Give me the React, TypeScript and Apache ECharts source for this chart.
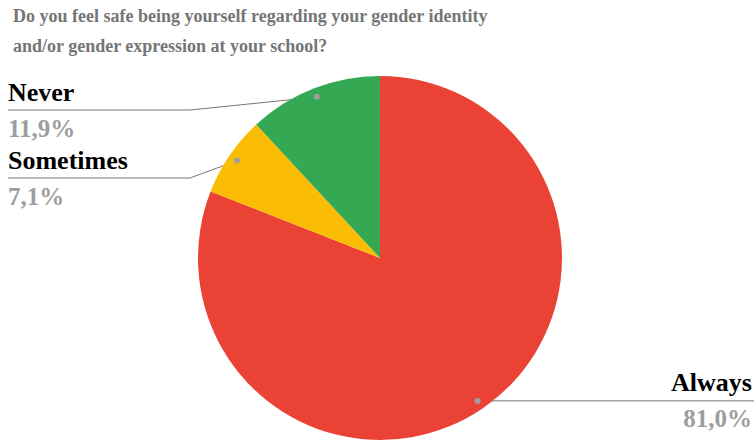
import React, { useEffect, useRef } from "react";
import * as echarts from "echarts";

const titleLines = [
  "Do you feel safe being yourself regarding your gender identity",
  "and/or gender expression at your school?",
];
const categories = ["Always", "Sometimes", "Never"];
const counts = [34, 3, 5];
const colors = ["#ea4335", "#fbbc04", "#34a853"];

const CENTER = [380, 258];
const RADIUS = 182;
const FONT = "'Liberation Serif', 'Times New Roman', serif";

function anchorPoint(i: number): number[] {
  const total = counts.reduce((a, b) => a + b, 0);
  let before = 0;
  for (let k = 0; k < i; k++) before += counts[k];
  const frac = (before + counts[i] / 2) / total;
  const th = frac * Math.PI * 2;
  const r = RADIUS * 0.95;
  return [CENTER[0] + r * Math.sin(th), CENTER[1] - r * Math.cos(th)];
}

// layout of left-hand labels: y of the underline and elbow x
const leftLabelLineY: Record<number, number> = { 1: 178, 2: 110 };
const LEFT_X = 8;
const ELBOW_X = 190;

export default function App() {
  const ref = useRef<HTMLDivElement>(null);
  useEffect(() => {
    if (!ref.current) return;
    const chart = echarts.init(ref.current, undefined, { renderer: "svg" });
    const data = categories.map((name, i) => ({
      name,
      value: counts[i],
      itemStyle: { color: colors[i] },
    }));
    chart.setOption({
      animation: false,
      backgroundColor: "#ffffff",
      title: {
        text: titleLines.join("\n"),
        left: 8,
        top: -4,
        textStyle: {
          fontFamily: FONT,
          fontWeight: "bold",
          fontSize: 18,
          lineHeight: 30,
          color: "#757575",
        },
      },
      series: [
        {
          type: "pie",
          center: CENTER,
          radius: RADIUS,
          startAngle: 90,
          clockwise: true,
          percentPrecision: 1,
          data,
          itemStyle: { borderWidth: 0 },
          emphasis: { disabled: true },
          silent: true,
          label: {
            show: true,
            position: "outside",
            formatter: (p: any) =>
              `{n|${p.name}}\n{v|${Number(p.percent).toFixed(1).replace(".", ",")}%}`,
            rich: {
              n: {
                fontFamily: FONT,
                fontWeight: "bold",
                fontSize: 26,
                lineHeight: 36,
                color: "#000000",
              },
              v: {
                fontFamily: FONT,
                fontWeight: "bold",
                fontSize: 25,
                lineHeight: 36,
                color: "#9e9e9e",
              },
            },
          },
          labelLine: {
            show: true,
            lineStyle: { color: "#757575", width: 1 },
          },
          labelLayout: (params: any) => {
            const i = params.dataIndex;
            const s = anchorPoint(i);
            if (leftLabelLineY[i] === undefined) {
              return {
                x: 752,
                y: s[1],
                align: "right",
                verticalAlign: "middle",
                labelLinePoints: [s, [s[0] + 1, s[1]], [754, s[1]]],
              };
            }
            const ly = leftLabelLineY[i];
            return {
              x: LEFT_X,
              y: ly,
              align: "left",
              verticalAlign: "middle",
              labelLinePoints: [s, [ELBOW_X, ly], [LEFT_X, ly]],
            };
          },
        },
        {
          type: "pie",
          center: CENTER,
          radius: [RADIUS * 0.88, RADIUS * 0.99],
          startAngle: 90,
          clockwise: true,
          silent: true,
          emphasis: { disabled: true },
          data: categories.map((name, i) => ({ name, value: counts[i] })),
          itemStyle: { color: "rgba(0,0,0,0)", borderWidth: 0 },
          label: {
            show: true,
            position: "inside",
            formatter: "{d|}",
            rich: {
              d: {
                width: 6,
                height: 6,
                borderRadius: 3,
                backgroundColor: "#9e9e9e",
              },
            },
          },
          labelLine: { show: false },
        },
      ],
    });
    return () => chart.dispose();
  }, []);
  return (
    <div
      ref={ref}
      style={{ position: "absolute", left: 0, top: 0, width: 754, height: 443 }}
    />
  );
}
